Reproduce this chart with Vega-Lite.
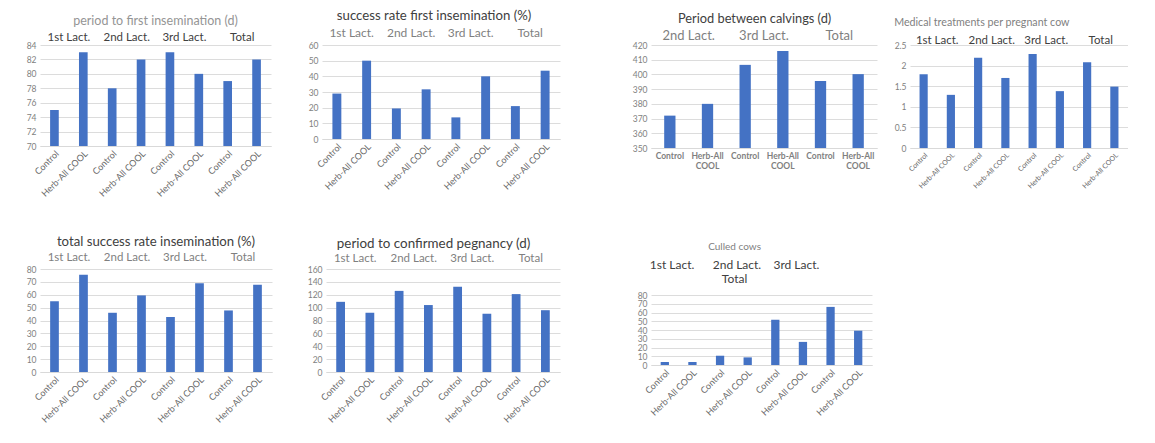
{
  "$schema": "https://vega.github.io/schema/vega-lite/v6.json",
  "background": "white",
  "padding": {"left": 26, "top": 8, "right": 0, "bottom": 0},
  "autosize": {"type": "pad"},
  "config": {
    "font": "Lato",
    "view": {"stroke": null},
    "title": {"fontWeight": "normal", "color": "#404040", "frame": "bounds", "offset": 4, "subtitleColor": "#7f7f7f", "subtitleFontSize": 11},
    "axis": {"title": null, "ticks": false, "labelFont": "Lato", "labelColor": "#7f7f7f", "labelFontSize": 8.5, "gridColor": "#dcdcdc", "domainColor": "#d9d9d9"},
    "axisY": {"domain": false, "labelPadding": 4},
    "axisX": {"grid": false, "labelAngle": -45, "labelPadding": 3, "labelColor": "#666666", "labelFontSize": 9},
    "scale": {"bandPaddingInner": 0.7, "bandPaddingOuter": 0.35},
    "bar": {"color": "#4472C4"},
    "text": {"font": "Lato", "fontSize": 11.5, "color": "#7f7f7f", "baseline": "alphabetic"}
  },
  "datasets": {
    "p1": [
      {"lact": "1st Lact.", "trt": "Control", "key": "1st Lact.|Control", "value": 75},
      {"lact": "1st Lact.", "trt": "Herb-All COOL", "key": "1st Lact.|Herb-All COOL", "value": 83},
      {"lact": "2nd Lact.", "trt": "Control", "key": "2nd Lact.|Control", "value": 78},
      {"lact": "2nd Lact.", "trt": "Herb-All COOL", "key": "2nd Lact.|Herb-All COOL", "value": 82},
      {"lact": "3rd Lact.", "trt": "Control", "key": "3rd Lact.|Control", "value": 83},
      {"lact": "3rd Lact.", "trt": "Herb-All COOL", "key": "3rd Lact.|Herb-All COOL", "value": 80},
      {"lact": "Total", "trt": "Control", "key": "Total|Control", "value": 79},
      {"lact": "Total", "trt": "Herb-All COOL", "key": "Total|Herb-All COOL", "value": 82}
    ],
    "p2": [
      {"lact": "1st Lact.", "trt": "Control", "key": "1st Lact.|Control", "value": 29},
      {"lact": "1st Lact.", "trt": "Herb-All COOL", "key": "1st Lact.|Herb-All COOL", "value": 50},
      {"lact": "2nd Lact.", "trt": "Control", "key": "2nd Lact.|Control", "value": 19.5},
      {"lact": "2nd Lact.", "trt": "Herb-All COOL", "key": "2nd Lact.|Herb-All COOL", "value": 31.7},
      {"lact": "3rd Lact.", "trt": "Control", "key": "3rd Lact.|Control", "value": 13.8},
      {"lact": "3rd Lact.", "trt": "Herb-All COOL", "key": "3rd Lact.|Herb-All COOL", "value": 40},
      {"lact": "Total", "trt": "Control", "key": "Total|Control", "value": 21},
      {"lact": "Total", "trt": "Herb-All COOL", "key": "Total|Herb-All COOL", "value": 43.6}
    ],
    "p3": [
      {"lact": "2nd Lact.", "trt": "Control", "key": "2nd Lact.|Control", "value": 372},
      {"lact": "2nd Lact.", "trt": "Herb-All COOL", "key": "2nd Lact.|Herb-All COOL", "value": 380},
      {"lact": "3rd Lact.", "trt": "Control", "key": "3rd Lact.|Control", "value": 406.5},
      {"lact": "3rd Lact.", "trt": "Herb-All COOL", "key": "3rd Lact.|Herb-All COOL", "value": 416},
      {"lact": "Total", "trt": "Control", "key": "Total|Control", "value": 395.6},
      {"lact": "Total", "trt": "Herb-All COOL", "key": "Total|Herb-All COOL", "value": 400.2}
    ],
    "p4": [
      {"lact": "1st Lact.", "trt": "Control", "key": "1st Lact.|Control", "value": 1.79},
      {"lact": "1st Lact.", "trt": "Herb-All COOL", "key": "1st Lact.|Herb-All COOL", "value": 1.29},
      {"lact": "2nd Lact.", "trt": "Control", "key": "2nd Lact.|Control", "value": 2.19},
      {"lact": "2nd Lact.", "trt": "Herb-All COOL", "key": "2nd Lact.|Herb-All COOL", "value": 1.7},
      {"lact": "3rd Lact.", "trt": "Control", "key": "3rd Lact.|Control", "value": 2.28},
      {"lact": "3rd Lact.", "trt": "Herb-All COOL", "key": "3rd Lact.|Herb-All COOL", "value": 1.38},
      {"lact": "Total", "trt": "Control", "key": "Total|Control", "value": 2.08},
      {"lact": "Total", "trt": "Herb-All COOL", "key": "Total|Herb-All COOL", "value": 1.49}
    ],
    "p5": [
      {"lact": "1st Lact.", "trt": "Control", "key": "1st Lact.|Control", "value": 55},
      {"lact": "1st Lact.", "trt": "Herb-All COOL", "key": "1st Lact.|Herb-All COOL", "value": 75.5},
      {"lact": "2nd Lact.", "trt": "Control", "key": "2nd Lact.|Control", "value": 46},
      {"lact": "2nd Lact.", "trt": "Herb-All COOL", "key": "2nd Lact.|Herb-All COOL", "value": 59.5},
      {"lact": "3rd Lact.", "trt": "Control", "key": "3rd Lact.|Control", "value": 42.7},
      {"lact": "3rd Lact.", "trt": "Herb-All COOL", "key": "3rd Lact.|Herb-All COOL", "value": 69},
      {"lact": "Total", "trt": "Control", "key": "Total|Control", "value": 47.8},
      {"lact": "Total", "trt": "Herb-All COOL", "key": "Total|Herb-All COOL", "value": 67.8}
    ],
    "p6": [
      {"lact": "1st Lact.", "trt": "Control", "key": "1st Lact.|Control", "value": 109},
      {"lact": "1st Lact.", "trt": "Herb-All COOL", "key": "1st Lact.|Herb-All COOL", "value": 92},
      {"lact": "2nd Lact.", "trt": "Control", "key": "2nd Lact.|Control", "value": 126},
      {"lact": "2nd Lact.", "trt": "Herb-All COOL", "key": "2nd Lact.|Herb-All COOL", "value": 104},
      {"lact": "3rd Lact.", "trt": "Control", "key": "3rd Lact.|Control", "value": 132.5},
      {"lact": "3rd Lact.", "trt": "Herb-All COOL", "key": "3rd Lact.|Herb-All COOL", "value": 90.5},
      {"lact": "Total", "trt": "Control", "key": "Total|Control", "value": 121},
      {"lact": "Total", "trt": "Herb-All COOL", "key": "Total|Herb-All COOL", "value": 96}
    ],
    "p7": [
      {"lact": "1st Lact.", "trt": "Control", "key": "1st Lact.|Control", "value": 3.4},
      {"lact": "1st Lact.", "trt": "Herb-All COOL", "key": "1st Lact.|Herb-All COOL", "value": 3.4},
      {"lact": "2nd Lact.", "trt": "Control", "key": "2nd Lact.|Control", "value": 10.6},
      {"lact": "2nd Lact.", "trt": "Herb-All COOL", "key": "2nd Lact.|Herb-All COOL", "value": 8.7},
      {"lact": "3rd Lact.", "trt": "Control", "key": "3rd Lact.|Control", "value": 51.7},
      {"lact": "3rd Lact.", "trt": "Herb-All COOL", "key": "3rd Lact.|Herb-All COOL", "value": 26.4},
      {"lact": "Total", "trt": "Control", "key": "Total|Control", "value": 66.4},
      {"lact": "Total", "trt": "Herb-All COOL", "key": "Total|Herb-All COOL", "value": 39.2}
    ]
  },
  "spacing": 72,
  "hconcat": [
    {
      "spacing": 35,
      "vconcat": [
        {
          "spacing": 36,
          "hconcat": [
            {
              "width": 231, "height": 101,
              "title": {"text": "period to first insemination (d)", "fontSize": 12.5, "color": "#959595", "frame": "group", "offset": 5},
              "data": {"name": "p1"},
              "layer": [
                {"mark": {"type": "bar"},
                 "encoding": {
                   "x": {"field": "key", "type": "nominal", "sort": null, "axis": {"labelExpr": "split(datum.label,'|')[1]"}},
                   "y": {"field": "value", "type": "quantitative", "scale": {"domain": [70, 84], "nice": false, "zero": false}, "axis": {"values": [70, 72, 74, 76, 78, 80, 82, 84]}},
                   "y2": {"datum": 70}
                 }},
                {"mark": {"type": "text", "dx": 14.5, "dy": -4, "color": "#404040", "fontSize": 11.5},
                 "encoding": {
                   "x": {"field": "key", "type": "nominal", "sort": null},
                   "y": {"datum": 84, "type": "quantitative", "scale": {"domain": [70, 84], "nice": false, "zero": false}, "axis": {"values": [70, 72, 74, 76, 78, 80, 82, 84]}},
                   "text": {"condition": {"test": "datum.trt === 'Control'", "field": "lact"}, "value": ""}
                 }}
              ]
            },
            {
              "width": 238, "height": 94,
              "title": {"text": "success rate first insemination (%)", "fontSize": 13.2},
              "data": {"name": "p2"},
              "layer": [
                {"mark": {"type": "bar"},
                 "encoding": {
                   "x": {"field": "key", "type": "nominal", "sort": null, "axis": {"labelExpr": "split(datum.label,'|')[1]"}},
                   "y": {"field": "value", "type": "quantitative", "scale": {"domain": [0, 60], "nice": false}, "axis": {"values": [0, 10, 20, 30, 40, 50, 60]}}
                 }},
                {"mark": {"type": "text", "dx": 14.8, "dy": -8, "fontSize": 12},
                 "encoding": {
                   "x": {"field": "key", "type": "nominal", "sort": null},
                   "y": {"datum": 60, "type": "quantitative", "scale": {"domain": [0, 60], "nice": false}, "axis": {"values": [0, 10, 20, 30, 40, 50, 60]}},
                   "text": {"condition": {"test": "datum.trt === 'Control'", "field": "lact"}, "value": ""}
                 }}
              ]
            }
          ]
        },
        {
          "spacing": 35,
          "hconcat": [
            {
              "width": 232, "height": 103,
              "title": {"text": "total success rate insemination (%)", "fontSize": 13.2, "offset": 3, "frame": "group"},
              "data": {"name": "p5"},
              "layer": [
                {"mark": {"type": "bar"},
                 "encoding": {
                   "x": {"field": "key", "type": "nominal", "sort": null, "axis": {"labelExpr": "split(datum.label,'|')[1]"}},
                   "y": {"field": "value", "type": "quantitative", "scale": {"domain": [0, 80], "nice": false}, "axis": {"values": [0, 10, 20, 30, 40, 50, 60, 70, 80]}}
                 }},
                {"mark": {"type": "text", "dx": 14.5, "dy": -8},
                 "encoding": {
                   "x": {"field": "key", "type": "nominal", "sort": null},
                   "y": {"datum": 80, "type": "quantitative", "scale": {"domain": [0, 80], "nice": false}, "axis": {"values": [0, 10, 20, 30, 40, 50, 60, 70, 80]}},
                   "text": {"condition": {"test": "datum.trt === 'Control'", "field": "lact"}, "value": ""}
                 }}
              ]
            },
            {
              "width": 234, "height": 103,
              "title": {"text": "period to confirmed pegnancy (d)", "fontSize": 13.4, "offset": 3},
              "data": {"name": "p6"},
              "layer": [
                {"mark": {"type": "bar"},
                 "encoding": {
                   "x": {"field": "key", "type": "nominal", "sort": null, "axis": {"labelExpr": "split(datum.label,'|')[1]"}},
                   "y": {"field": "value", "type": "quantitative", "scale": {"domain": [0, 160], "nice": false}, "axis": {"values": [0, 20, 40, 60, 80, 100, 120, 140, 160]}}
                 }},
                {"mark": {"type": "text", "dx": 14.6, "dy": -7},
                 "encoding": {
                   "x": {"field": "key", "type": "nominal", "sort": null},
                   "y": {"datum": 160, "type": "quantitative", "scale": {"domain": [0, 160], "nice": false}, "axis": {"values": [0, 20, 40, 60, 80, 100, 120, 140, 160]}},
                   "text": {"condition": {"test": "datum.trt === 'Control'", "field": "lact"}, "value": ""}
                 }}
              ]
            }
          ]
        }
      ]
    },
    {
      "spacing": 52,
      "vconcat": [
        {
          "spacing": 17,
          "hconcat": [
            {
              "width": 226, "height": 103,
              "title": {"text": "Period between calvings (d)", "fontSize": 12.8},
              "data": {"name": "p3"},
              "layer": [
                {"mark": {"type": "bar"},
                 "encoding": {
                   "x": {"field": "key", "type": "nominal", "sort": null, "axis": {"labelAngle": 0, "labelFontWeight": "bold", "labelFontSize": 8.5, "labelColor": "#7f7f7f", "labelExpr": "split(datum.label,'|')[1] === 'Control' ? 'Control' : ['Herb-All', 'COOL']"}},
                   "y": {"field": "value", "type": "quantitative", "scale": {"domain": [350, 420], "nice": false, "zero": false}, "axis": {"values": [350, 360, 370, 380, 390, 400, 410, 420]}},
                   "y2": {"datum": 350}
                 }},
                {"mark": {"type": "text", "dx": 18.8, "dy": -5, "fontSize": 13},
                 "encoding": {
                   "x": {"field": "key", "type": "nominal", "sort": null},
                   "y": {"datum": 420, "type": "quantitative", "scale": {"domain": [350, 420], "nice": false, "zero": false}, "axis": {"values": [350, 360, 370, 380, 390, 400, 410, 420]}},
                   "text": {"condition": {"test": "datum.trt === 'Control'", "field": "lact"}, "value": ""}
                 }}
              ]
            },
            {
              "width": 218, "height": 103,
              "title": {"text": "Medical treatments per pregnant cow", "fontSize": 10.7, "color": "#7f7f7f", "anchor": "start", "offset": 6},
              "data": {"name": "p4"},
              "layer": [
                {"mark": {"type": "bar"},
                 "encoding": {
                   "x": {"field": "key", "type": "nominal", "sort": null, "axis": {"labelExpr": "split(datum.label,'|')[1]", "labelFontSize": 7}},
                   "y": {"field": "value", "type": "quantitative", "scale": {"domain": [0, 2.5], "nice": false}, "axis": {"values": [0, 0.5, 1, 1.5, 2, 2.5], "format": "~g"}}
                 }},
                {"mark": {"type": "text", "dx": 13.6, "dy": -1, "color": "#404040", "fontSize": 11.5},
                 "encoding": {
                   "x": {"field": "key", "type": "nominal", "sort": null},
                   "y": {"datum": 2.5, "type": "quantitative", "scale": {"domain": [0, 2.5], "nice": false}, "axis": {"values": [0, 0.5, 1, 1.5, 2, 2.5], "format": "~g"}},
                   "text": {"condition": {"test": "datum.trt === 'Control'", "field": "lact"}, "value": ""}
                 }}
              ]
            }
          ]
        },
        {
          "width": 221, "height": 70,
          "title": {"text": "Culled cows", "fontSize": 10, "color": "#7f7f7f", "dx": -20, "offset": 6,
                    "subtitle": ["1st Lact.\u00a0\u00a0\u00a0\u00a0\u00a0 2nd Lact.\u00a0\u00a0\u00a0 3rd Lact.", "Total"],
                    "subtitleColor": "#404040", "subtitleFontSize": 12, "subtitlePadding": 8},
          "data": {"name": "p7"},
          "mark": {"type": "bar"},
          "encoding": {
            "x": {"field": "key", "type": "nominal", "sort": null, "axis": {"labelExpr": "split(datum.label,'|')[1]"}},
            "y": {"field": "value", "type": "quantitative", "scale": {"domain": [0, 80], "nice": false}, "axis": {"values": [0, 10, 20, 30, 40, 50, 60, 70, 80]}}
          }
        }
      ]
    }
  ]
}
